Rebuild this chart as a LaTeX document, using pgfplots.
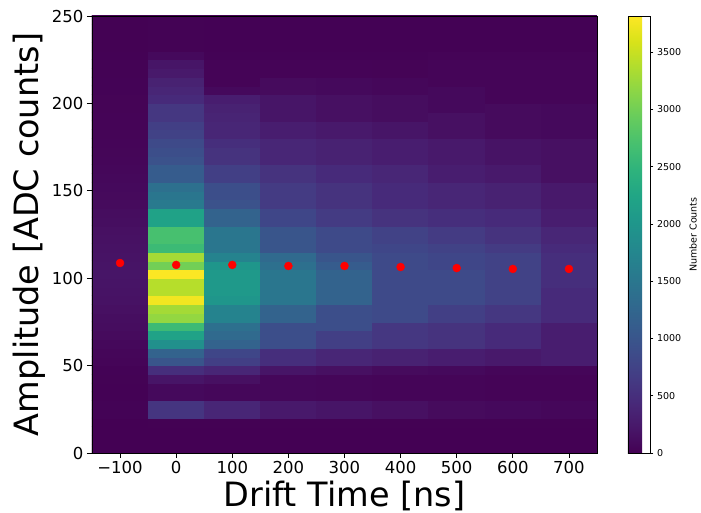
\documentclass[border=0pt]{standalone}
\usepackage{pgfplots}
\pgfplotsset{compat=1.18}
\usepackage{fontspec}
\setmainfont{DejaVu Sans}
\begin{document}
\begin{tikzpicture}
\begin{axis}[
  at={(0,0)}, anchor=south west,
  scale only axis, width=505pt, height=437pt,
  xmin=-150, xmax=750, ymin=0, ymax=250,
  enlargelimits=false,
  axis on top,
  xtick={-100,0,100,200,300,400,500,600,700},
  xticklabels={−100,0,100,200,300,400,500,600,700},
  ytick={0,50,100,150,200,250},
  tick pos=left, tick align=outside,
  major tick length=5pt,
  tick style={black, line width=0.8pt},
  axis line style={line width=0.8pt},
  ticklabel style={font=\fontsize{16.5}{19}\selectfont},
  /pgf/number format/assume math mode=true,
  xlabel={Drift Time [ns]}, ylabel={Amplitude [ADC counts]},
  every axis x label/.style={at={(axis description cs:0.5,-0.1213)}, anchor=base, font=\fontsize{33.5}{40}\selectfont},
  every axis y label/.style={at={(axis description cs:-0.1069,0.5)}, anchor=base, rotate=90, font=\fontsize{33.5}{40}\selectfont},
  colormap name=viridis,
  point meta min=0, point meta max=3815,
  colorbar,
  colorbar shift/.style={xshift=31pt},
  colorbar style={
    at={(parent axis.north east)}, anchor=north west,
    width=22pt,
    ytick={0,500,1000,1500,2000,2500,3000,3500},
    ytick pos=right, yticklabel pos=right,
    tick align=outside, major tick length=3.5pt,
    tick style={black, line width=0.6pt},
    axis line style={line width=0.6pt},
    scaled y ticks=false,
    /pgf/number format/1000 sep={},
    /pgf/number format/assume math mode=true,
    yticklabel style={font=\fontsize{9.5}{11}\selectfont},
    ylabel={Number Counts},
    every axis y label/.style={at={(axis description cs:3.12,0.5)}, anchor=base, rotate=90, font=\fontsize{9.5}{11}\selectfont},
  },
]
% cells are 100 ns x 5 ADC; one extra row/column on every side lies outside the axis and is clipped
\addplot[matrix plot*, mesh/cols=11, point meta=explicit] coordinates {
(-200,-2.5)[0] (-100,-2.5)[0] (0,-2.5)[0] (100,-2.5)[0] (200,-2.5)[0] (300,-2.5)[0] (400,-2.5)[0] (500,-2.5)[0] (600,-2.5)[0] (700,-2.5)[0] (800,-2.5)[0]
(-200,2.5)[0] (-100,2.5)[0] (0,2.5)[0] (100,2.5)[0] (200,2.5)[0] (300,2.5)[0] (400,2.5)[0] (500,2.5)[0] (600,2.5)[0] (700,2.5)[0] (800,2.5)[0]
(-200,7.5)[0] (-100,7.5)[0] (0,7.5)[0] (100,7.5)[0] (200,7.5)[0] (300,7.5)[0] (400,7.5)[0] (500,7.5)[0] (600,7.5)[0] (700,7.5)[0] (800,7.5)[0]
(-200,12.5)[0] (-100,12.5)[0] (0,12.5)[0] (100,12.5)[0] (200,12.5)[0] (300,12.5)[0] (400,12.5)[0] (500,12.5)[0] (600,12.5)[0] (700,12.5)[0] (800,12.5)[0]
(-200,17.5)[0] (-100,17.5)[0] (0,17.5)[5] (100,17.5)[5] (200,17.5)[5] (300,17.5)[5] (400,17.5)[5] (500,17.5)[5] (600,17.5)[5] (700,17.5)[5] (800,17.5)[5]
(-200,22.5)[20] (-100,22.5)[20] (0,22.5)[580] (100,22.5)[400] (200,22.5)[250] (300,22.5)[200] (400,22.5)[150] (500,22.5)[100] (600,22.5)[80] (700,22.5)[60] (800,22.5)[60]
(-200,27.5)[20] (-100,27.5)[20] (0,27.5)[580] (100,27.5)[400] (200,27.5)[250] (300,27.5)[200] (400,27.5)[150] (500,27.5)[100] (600,27.5)[80] (700,27.5)[60] (800,27.5)[60]
(-200,32.5)[10] (-100,32.5)[10] (0,32.5)[80] (100,32.5)[60] (200,32.5)[60] (300,32.5)[50] (400,32.5)[40] (500,32.5)[40] (600,32.5)[30] (700,32.5)[30] (800,32.5)[30]
(-200,37.5)[10] (-100,37.5)[10] (0,37.5)[80] (100,37.5)[60] (200,37.5)[60] (300,37.5)[50] (400,37.5)[40] (500,37.5)[40] (600,37.5)[30] (700,37.5)[30] (800,37.5)[30]
(-200,42.5)[15] (-100,42.5)[15] (0,42.5)[200] (100,42.5)[150] (200,42.5)[60] (300,42.5)[50] (400,42.5)[40] (500,42.5)[40] (600,42.5)[30] (700,42.5)[30] (800,42.5)[30]
(-200,47.5)[20] (-100,47.5)[20] (0,47.5)[500] (100,47.5)[400] (200,47.5)[200] (300,47.5)[150] (400,47.5)[100] (500,47.5)[80] (600,47.5)[50] (700,47.5)[50] (800,47.5)[50]
(-200,52.5)[40] (-100,52.5)[40] (0,52.5)[1000] (100,52.5)[700] (200,52.5)[500] (300,52.5)[400] (400,52.5)[350] (500,52.5)[300] (600,52.5)[250] (700,52.5)[300] (800,52.5)[300]
(-200,57.5)[50] (-100,57.5)[50] (0,57.5)[1200] (100,57.5)[800] (200,57.5)[500] (300,57.5)[400] (400,57.5)[350] (500,57.5)[300] (600,57.5)[250] (700,57.5)[300] (800,57.5)[300]
(-200,62.5)[70] (-100,62.5)[70] (0,62.5)[1900] (100,62.5)[1200] (200,62.5)[900] (300,62.5)[700] (400,62.5)[600] (500,62.5)[550] (600,62.5)[450] (700,62.5)[300] (800,62.5)[300]
(-200,67.5)[100] (-100,67.5)[100] (0,67.5)[2200] (100,67.5)[1300] (200,67.5)[900] (300,67.5)[700] (400,67.5)[600] (500,67.5)[550] (600,67.5)[450] (700,67.5)[300] (800,67.5)[300]
(-200,72.5)[120] (-100,72.5)[120] (0,72.5)[2600] (100,72.5)[1400] (200,72.5)[900] (300,72.5)[900] (400,72.5)[600] (500,72.5)[550] (600,72.5)[450] (700,72.5)[300] (800,72.5)[300]
(-200,77.5)[130] (-100,77.5)[130] (0,77.5)[3200] (100,77.5)[1700] (200,77.5)[1200] (300,77.5)[900] (400,77.5)[850] (500,77.5)[700] (600,77.5)[600] (700,77.5)[450] (800,77.5)[450]
(-200,82.5)[150] (-100,82.5)[150] (0,82.5)[3300] (100,82.5)[1700] (200,82.5)[1200] (300,82.5)[900] (400,82.5)[850] (500,82.5)[700] (600,82.5)[600] (700,82.5)[450] (800,82.5)[450]
(-200,87.5)[170] (-100,87.5)[170] (0,87.5)[3750] (100,87.5)[2000] (200,87.5)[1500] (300,87.5)[1200] (400,87.5)[850] (500,87.5)[850] (600,87.5)[750] (700,87.5)[450] (800,87.5)[450]
(-200,92.5)[180] (-100,92.5)[180] (0,92.5)[3400] (100,92.5)[2050] (200,92.5)[1500] (300,92.5)[1200] (400,92.5)[850] (500,92.5)[850] (600,92.5)[750] (700,92.5)[450] (800,92.5)[450]
(-200,97.5)[190] (-100,97.5)[190] (0,97.5)[3400] (100,97.5)[2050] (200,97.5)[1500] (300,97.5)[1200] (400,97.5)[850] (500,97.5)[850] (600,97.5)[750] (700,97.5)[500] (800,97.5)[500]
(-200,102.5)[200] (-100,102.5)[200] (0,102.5)[3800] (100,102.5)[2050] (200,102.5)[1500] (300,102.5)[1200] (400,102.5)[850] (500,102.5)[850] (600,102.5)[750] (700,102.5)[500] (800,102.5)[500]
(-200,107.5)[190] (-100,107.5)[190] (0,107.5)[3000] (100,107.5)[2000] (200,107.5)[1400] (300,107.5)[1100] (400,107.5)[850] (500,107.5)[800] (600,107.5)[750] (700,107.5)[500] (800,107.5)[500]
(-200,112.5)[180] (-100,112.5)[180] (0,112.5)[3300] (100,112.5)[1700] (200,112.5)[1300] (300,112.5)[1000] (400,112.5)[850] (500,112.5)[800] (600,112.5)[750] (700,112.5)[500] (800,112.5)[500]
(-200,117.5)[170] (-100,117.5)[170] (0,117.5)[2600] (100,117.5)[1500] (200,117.5)[1000] (300,117.5)[850] (400,117.5)[800] (500,117.5)[750] (600,117.5)[650] (700,117.5)[450] (800,117.5)[450]
(-200,122.5)[160] (-100,122.5)[160] (0,122.5)[2700] (100,122.5)[1500] (200,122.5)[1000] (300,122.5)[850] (400,122.5)[750] (500,122.5)[650] (600,122.5)[550] (700,122.5)[400] (800,122.5)[400]
(-200,127.5)[150] (-100,127.5)[150] (0,127.5)[2700] (100,127.5)[1500] (200,127.5)[1000] (300,127.5)[850] (400,127.5)[750] (500,127.5)[650] (600,127.5)[550] (700,127.5)[400] (800,127.5)[400]
(-200,132.5)[130] (-100,132.5)[130] (0,132.5)[2200] (100,132.5)[1200] (200,132.5)[800] (300,132.5)[650] (400,132.5)[550] (500,132.5)[500] (600,132.5)[450] (700,132.5)[300] (800,132.5)[300]
(-200,137.5)[120] (-100,137.5)[120] (0,137.5)[2200] (100,137.5)[1200] (200,137.5)[800] (300,137.5)[650] (400,137.5)[550] (500,137.5)[500] (600,137.5)[450] (700,137.5)[300] (800,137.5)[300]
(-200,142.5)[100] (-100,142.5)[100] (0,142.5)[1550] (100,142.5)[950] (200,142.5)[650] (300,142.5)[550] (400,142.5)[450] (500,142.5)[400] (600,142.5)[350] (700,142.5)[250] (800,142.5)[250]
(-200,147.5)[90] (-100,147.5)[90] (0,147.5)[1500] (100,147.5)[900] (200,147.5)[650] (300,147.5)[550] (400,147.5)[450] (500,147.5)[400] (600,147.5)[350] (700,147.5)[250] (800,147.5)[250]
(-200,152.5)[80] (-100,152.5)[80] (0,152.5)[1400] (100,152.5)[900] (200,152.5)[650] (300,152.5)[550] (400,152.5)[450] (500,152.5)[400] (600,152.5)[350] (700,152.5)[250] (800,152.5)[250]
(-200,157.5)[70] (-100,157.5)[70] (0,157.5)[1100] (100,157.5)[700] (200,157.5)[550] (300,157.5)[450] (400,157.5)[400] (500,157.5)[300] (600,157.5)[250] (700,157.5)[150] (800,157.5)[150]
(-200,162.5)[60] (-100,162.5)[60] (0,162.5)[1100] (100,162.5)[700] (200,162.5)[550] (300,162.5)[450] (400,162.5)[400] (500,162.5)[300] (600,162.5)[250] (700,162.5)[150] (800,162.5)[150]
(-200,167.5)[50] (-100,167.5)[50] (0,167.5)[950] (100,167.5)[550] (200,167.5)[400] (300,167.5)[350] (400,167.5)[300] (500,167.5)[250] (600,167.5)[180] (700,167.5)[150] (800,167.5)[150]
(-200,172.5)[45] (-100,172.5)[45] (0,172.5)[900] (100,172.5)[550] (200,172.5)[400] (300,172.5)[350] (400,172.5)[300] (500,172.5)[250] (600,172.5)[180] (700,172.5)[150] (800,172.5)[150]
(-200,177.5)[40] (-100,177.5)[40] (0,177.5)[850] (100,177.5)[500] (200,177.5)[400] (300,177.5)[350] (400,177.5)[300] (500,177.5)[250] (600,177.5)[180] (700,177.5)[150] (800,177.5)[150]
(-200,182.5)[35] (-100,182.5)[35] (0,182.5)[750] (100,182.5)[400] (200,182.5)[300] (300,182.5)[250] (400,182.5)[200] (500,182.5)[150] (600,182.5)[100] (700,182.5)[80] (800,182.5)[80]
(-200,187.5)[30] (-100,187.5)[30] (0,187.5)[700] (100,187.5)[400] (200,187.5)[300] (300,187.5)[250] (400,187.5)[200] (500,187.5)[150] (600,187.5)[100] (700,187.5)[80] (800,187.5)[80]
(-200,192.5)[30] (-100,192.5)[30] (0,192.5)[600] (100,192.5)[380] (200,192.5)[200] (300,192.5)[150] (400,192.5)[120] (500,192.5)[150] (600,192.5)[100] (700,192.5)[80] (800,192.5)[80]
(-200,197.5)[25] (-100,197.5)[25] (0,197.5)[600] (100,197.5)[350] (200,197.5)[200] (300,197.5)[150] (400,197.5)[120] (500,197.5)[80] (600,197.5)[100] (700,197.5)[80] (800,197.5)[80]
(-200,202.5)[25] (-100,202.5)[25] (0,202.5)[450] (100,202.5)[300] (200,202.5)[200] (300,202.5)[150] (400,202.5)[120] (500,202.5)[80] (600,202.5)[40] (700,202.5)[40] (800,202.5)[40]
(-200,207.5)[20] (-100,207.5)[20] (0,207.5)[400] (100,207.5)[80] (200,207.5)[100] (300,207.5)[80] (400,207.5)[60] (500,207.5)[80] (600,207.5)[40] (700,207.5)[40] (800,207.5)[40]
(-200,212.5)[20] (-100,212.5)[20] (0,212.5)[350] (100,212.5)[30] (200,212.5)[100] (300,212.5)[80] (400,212.5)[60] (500,212.5)[40] (600,212.5)[40] (700,212.5)[40] (800,212.5)[40]
(-200,217.5)[15] (-100,217.5)[15] (0,217.5)[250] (100,217.5)[30] (200,217.5)[30] (300,217.5)[30] (400,217.5)[25] (500,217.5)[40] (600,217.5)[40] (700,217.5)[40] (800,217.5)[40]
(-200,222.5)[15] (-100,222.5)[15] (0,222.5)[200] (100,222.5)[30] (200,222.5)[30] (300,222.5)[30] (400,222.5)[25] (500,222.5)[40] (600,222.5)[40] (700,222.5)[40] (800,222.5)[40]
(-200,227.5)[10] (-100,227.5)[10] (0,227.5)[80] (100,227.5)[20] (200,227.5)[20] (300,227.5)[20] (400,227.5)[20] (500,227.5)[30] (600,227.5)[30] (700,227.5)[30] (800,227.5)[30]
(-200,232.5)[5] (-100,232.5)[5] (0,232.5)[15] (100,232.5)[10] (200,232.5)[10] (300,232.5)[10] (400,232.5)[10] (500,232.5)[10] (600,232.5)[10] (700,232.5)[10] (800,232.5)[10]
(-200,237.5)[5] (-100,237.5)[5] (0,237.5)[15] (100,237.5)[10] (200,237.5)[10] (300,237.5)[10] (400,237.5)[10] (500,237.5)[10] (600,237.5)[10] (700,237.5)[10] (800,237.5)[10]
(-200,242.5)[5] (-100,242.5)[5] (0,242.5)[15] (100,242.5)[10] (200,242.5)[10] (300,242.5)[10] (400,242.5)[10] (500,242.5)[10] (600,242.5)[10] (700,242.5)[10] (800,242.5)[10]
(-200,247.5)[5] (-100,247.5)[5] (0,247.5)[15] (100,247.5)[10] (200,247.5)[10] (300,247.5)[10] (400,247.5)[10] (500,247.5)[10] (600,247.5)[10] (700,247.5)[10] (800,247.5)[10]
(-200,252.5)[5] (-100,252.5)[5] (0,252.5)[15] (100,252.5)[10] (200,252.5)[10] (300,252.5)[10] (400,252.5)[10] (500,252.5)[10] (600,252.5)[10] (700,252.5)[10] (800,252.5)[10]
};
\addplot[only marks, mark=*, mark size=4pt, color=red, mark options={fill=red, draw=red}] coordinates {
(-100,108.7) (0,107.6) (100,107.6) (200,107.0) (300,107.0) (400,106.4) (500,105.8) (600,105.3) (700,105.3)
};
\end{axis}
\pgfresetboundingbox
\useasboundingbox (-92pt,-60pt) rectangle (609pt,453pt);
\end{tikzpicture}
\end{document}
